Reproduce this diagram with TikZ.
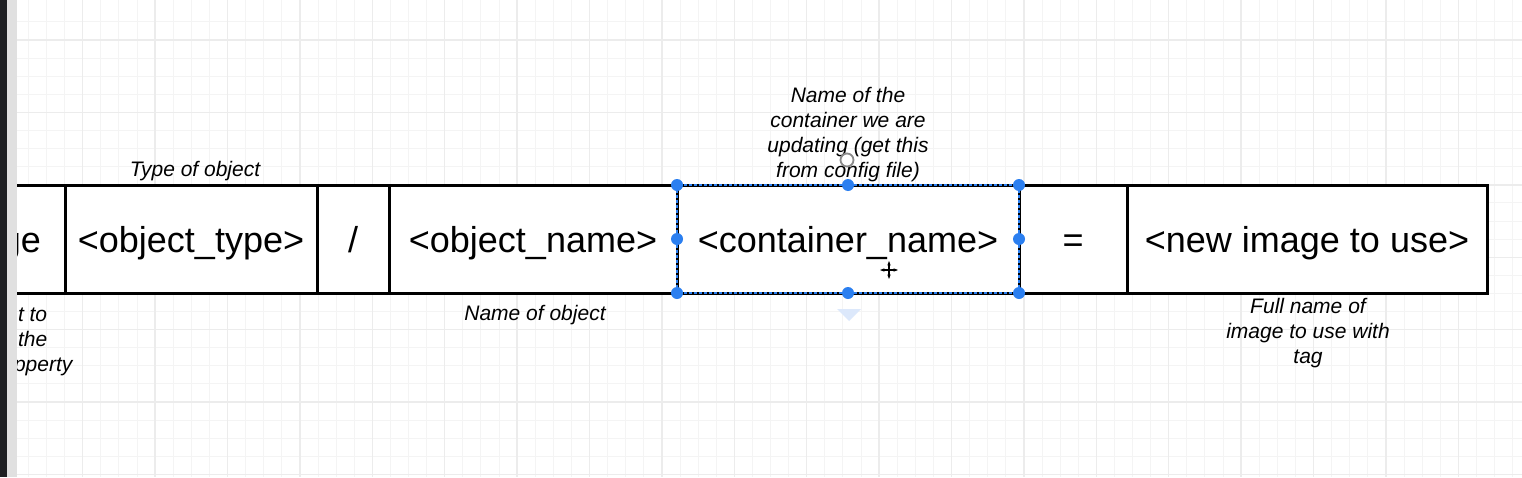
\documentclass[tikz,border=0pt]{standalone}
\usepackage{fontspec}
\setmainfont{Liberation Sans}
\usetikzlibrary{arrows.meta}
\definecolor{minorg}{HTML}{F4F4F4}
\definecolor{majorg}{HTML}{ECECEC}
\definecolor{selblue}{HTML}{2B7FF0}
\definecolor{triblue}{HTML}{DCE8FB}
\definecolor{stripdark}{HTML}{1E1F22}
\definecolor{stripgray}{HTML}{E0E0E0}
\definecolor{cursorgray}{HTML}{8A8A8A}
\begin{document}
\begin{tikzpicture}[x=1pt,y=-1pt,
  minorline/.style={draw=minorg, line width=1pt},
  majorline/.style={draw=majorg, line width=1.4pt},
  cell/.style={draw=black, fill=white, line width=3pt, inner sep=0pt, outer sep=0pt,
    minimum height=108pt, font=\fontsize{36}{43}\selectfont, text height=28pt, text depth=2pt},
  note/.style={inner sep=0pt, outer sep=0pt, font=\fontsize{21}{25}\selectfont\itshape, align=center},
  handle/.style={circle, fill=selblue, inner sep=0pt, minimum size=12pt},
  seldash/.style={draw=selblue, line width=1.1pt, dash pattern=on 3pt off 2pt}]
\useasboundingbox (0,0) rectangle (1522,477);
\clip (0,0) rectangle (1522,477);
\fill[white] (0,0) rectangle (1522,477);
% grid
\foreach \i in {0,...,84} {\draw[minorline] (10.3+\i*18.1,0) -- (10.3+\i*18.1,477);}
\foreach \i in {-1,...,25} {\draw[minorline] (0,40+\i*18.1) -- (1522,40+\i*18.1);}
\foreach \i in {0,...,21} {\draw[majorline] (10.3+\i*72.4,0) -- (10.3+\i*72.4,477);}
\foreach \i in {0,...,6} {\draw[majorline] (0,40+\i*72.4) -- (1522,40+\i*72.4);}
% cells
\node[cell, minimum width=88pt]  (prev)  at (21,239)   {ge};
\node[cell, minimum width=252pt] (otype) at (191,239)  {<object\_type>};
\node[cell, minimum width=72pt]  (slash) at (353,239)  {/};
\node[cell, minimum width=288pt] (oname) at (533,239)  {<object\_name>};
\node[cell, minimum width=342pt] (cname) at (848,239)  {<container\_name>};
\node[cell, minimum width=108pt] (eq)    at (1073,239) {=};
\node[cell, minimum width=360pt] (img)   at (1307,239) {<new image to use>};
% notes
\node[note, anchor=base]  (typenote) at (195,176) {Type of object};
\node[note, anchor=base]  (namenote) at (535,320) {Name of object};
\node[note, anchor=north] (cnote)    at (848,87)  {Name of the\\container we are\\updating (get this\\from config file)};
\node[note, anchor=north] (imgnote)  at (1308,298) {Full name of\\image to use with\\tag};
\node[note, anchor=north west, align=left] (prevnote) at (14,308) {\hspace*{4pt}t to\\\hspace*{4pt}the\\pperty};
% selection of the container cell
\draw[seldash] (cname.north west) rectangle (cname.south east);
\foreach \a in {north west,north,north east,west,east,south west,south,south east}
  {\node[handle] at (cname.\a) {};}
\fill[triblue] (837,309) -- (861,309) -- (849,321) -- cycle;
% cursors
\draw[cursorgray, line width=1.8pt, fill=white, fill opacity=0.6] (847,160) circle (6.5pt);
\draw[white, line width=4pt] (880,270) -- (898,270) (889,261) -- (889,279);
\draw[black, line width=1.4pt, {Stealth[length=4.5pt]}-{Stealth[length=4.5pt]}] (880,270) -- (898,270);
\draw[black, line width=1.4pt, {Stealth[length=4.5pt]}-{Stealth[length=4.5pt]}] (889,261) -- (889,279);
% window strip
\fill[stripdark] (0,0) rectangle (7,477);
\fill[stripgray] (7,0) rectangle (17,477);
\end{tikzpicture}
\end{document}
